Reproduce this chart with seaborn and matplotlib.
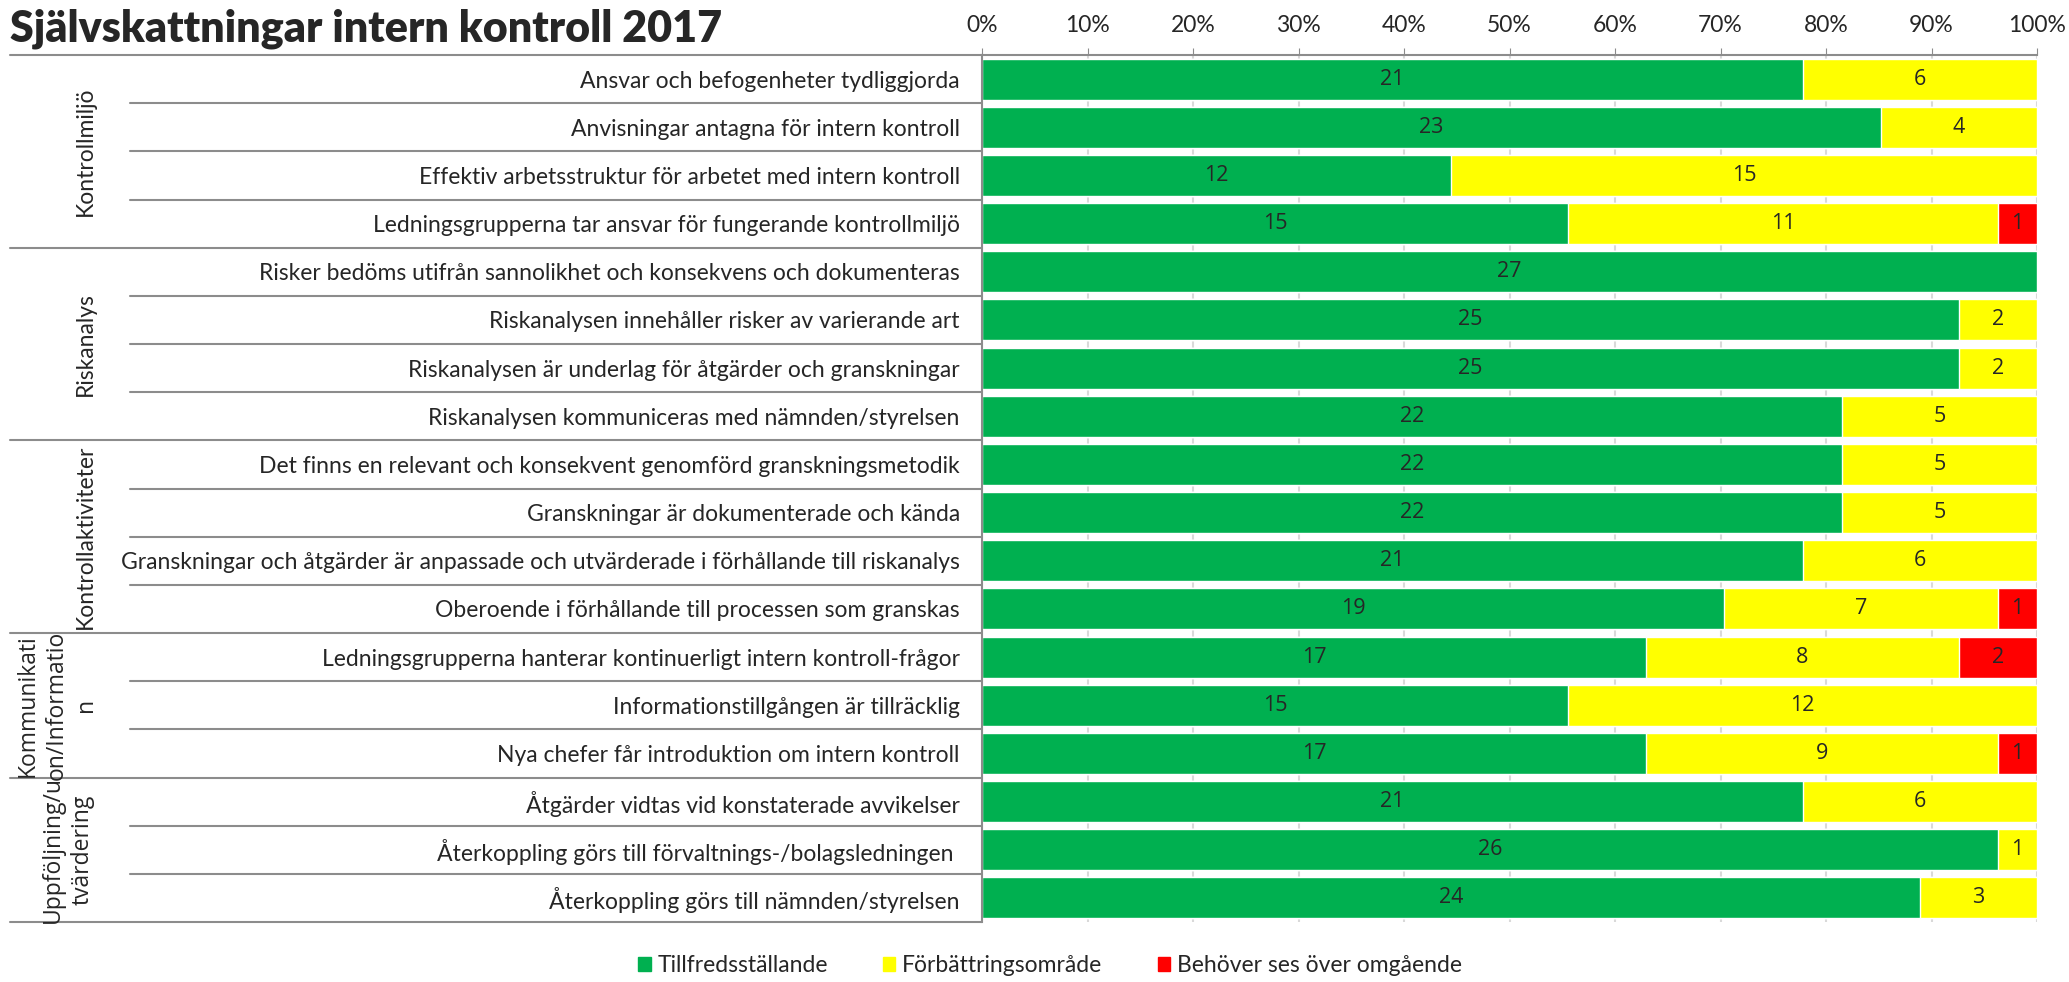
import numpy as np
import pandas as pd
import matplotlib
matplotlib.use('Agg')
import matplotlib.pyplot as plt
import matplotlib.transforms as mtransforms
from matplotlib.patches import Patch
import seaborn as sns

# Data
kategorier = [
    'Ansvar och befogenheter tydliggjorda',
    'Anvisningar antagna för intern kontroll',
    'Effektiv arbetsstruktur för arbetet med intern kontroll',
    'Ledningsgrupperna tar ansvar för fungerande kontrollmiljö',
    'Risker bedöms utifrån sannolikhet och konsekvens och dokumenteras',
    'Riskanalysen innehåller risker av varierande art',
    'Riskanalysen är underlag för åtgärder och granskningar',
    'Riskanalysen kommuniceras med nämnden/styrelsen',
    'Det finns en relevant och konsekvent genomförd granskningsmetodik',
    'Granskningar är dokumenterade och kända',
    'Granskningar och åtgärder är anpassade och utvärderade i förhållande till riskanalys',
    'Oberoende i förhållande till processen som granskas',
    'Ledningsgrupperna hanterar kontinuerligt intern kontroll-frågor',
    'Informationstillgången är tillräcklig',
    'Nya chefer får introduktion om intern kontroll',
    'Åtgärder vidtas vid konstaterade avvikelser',
    'Återkoppling görs till förvaltnings-/bolagsledningen ',
    'Återkoppling görs till nämnden/styrelsen',
]
tillfreds = [21, 23, 12, 15, 27, 25, 25, 22, 22, 22, 21, 19, 17, 15, 17, 21, 26, 24]
forbattring = [6, 4, 15, 11, 0, 2, 2, 5, 5, 5, 6, 7, 8, 12, 9, 6, 1, 3]
behover = [0, 0, 0, 1, 0, 0, 0, 0, 0, 0, 0, 1, 2, 0, 1, 0, 0, 0]

grupper = ['Kontrollmiljö', 'Riskanalys', 'Kontrollaktiviteter',
           'Kommunikati\non/Informatio\nn', 'Uppföljning/u\ntvärdering']
grupp_storlek = [4, 4, 4, 3, 3]

serier = ['Tillfredsställande', 'Förbättringsområde', 'Behöver ses över omgående']
farger = ['#00b050', '#ffff00', '#ff0000']

df = pd.DataFrame({'kategori': kategorier, 'g': tillfreds, 'y': forbattring, 'r': behover})
df['total'] = df[['g', 'y', 'r']].sum(axis=1)
df['pg'] = df['g'] / df['total'] * 100
df['py'] = (df['g'] + df['y']) / df['total'] * 100
df['pr'] = (df['g'] + df['y'] + df['r']) / df['total'] * 100

sns.set_style('white')
smal = ['Lato', 'DejaVu Sans']
bred = ['Open Sans', 'DejaVu Sans']
plt.rcParams['font.family'] = smal
linjefarg = '#8c8c8c'

fig = plt.figure(figsize=(20.69, 9.82), dpi=100)
ax = fig.add_axes([982 / 2069, 1 - 922 / 982, 1055 / 2069, (922 - 55) / 982])

# staplade staplar: rita kumulativa summor ovanpå varandra
for kol, farg in zip(['pr', 'py', 'pg'], farger[::-1]):
    sns.barplot(data=df, x=kol, y='kategori', orient='h', color=farg,
                width=0.85, saturation=1, ax=ax, legend=False, zorder=2)

# värden i staplarna
for i, rad in df.iterrows():
    start = 0
    for v in [rad['g'], rad['y'], rad['r']]:
        if v > 0:
            mitt = (start + v / 2) / rad['total'] * 100
            ax.text(mitt, i, f'{int(v)}', ha='center', va='center', fontsize=15.5,
                    family=bred, zorder=3)
        start += v

ax.set_xlim(0, 100)
ax.set_ylim(len(kategorier) - 0.5, -0.5)
ax.xaxis.tick_top()
ax.set_xticks(np.arange(0, 101, 10))
ax.set_xticklabels([f'{t}%' for t in range(0, 101, 10)], fontsize=16.5)
ax.tick_params(axis='x', length=5, color=linjefarg, pad=9, top=True, bottom=False)
ax.tick_params(axis='y', length=0, pad=16, labelsize=16.5)
ax.set_xlabel('')
ax.set_ylabel('')
ax.grid(axis='x', color='#d9d9d9', linewidth=1.5, zorder=0)
ax.set_axisbelow(True)
for s in ['right', 'bottom']:
    ax.spines[s].set_visible(False)
for s in ['top', 'left']:
    ax.spines[s].set_color(linjefarg)
    ax.spines[s].set_linewidth(1.5)

# tabellinjer till vänster
trans = mtransforms.blended_transform_factory(ax.transAxes, ax.transData)
x_rad = (130 - 982) / 1055
x_grupp = (10 - 982) / 1055
granser = np.cumsum([0] + grupp_storlek) - 0.5
for k in range(len(kategorier) + 1):
    yk = k - 0.5
    x0 = x_grupp if yk in granser else x_rad
    ax.plot([x0, 0], [yk, yk], color=linjefarg, lw=1.5, transform=trans, clip_on=False)

# grupprubriker
grupp_x = [85, 85, 85, 57, 68]
grupp_font = [smal, smal, smal, bred, bred]
grupp_size = [16.5, 16.5, 16.5, 16.5, 16.5]
for namn, a, b, gx, gf, gs in zip(grupper, granser[:-1], granser[1:], grupp_x, grupp_font, grupp_size):
    ax.text((gx - 982) / 1055, (a + b) / 2, namn, rotation=90, ha='center', va='center',
            fontsize=gs, family=gf, linespacing=1.3, transform=trans, multialignment='center')

fig.text(10 / 2069, 1 - 29 / 982, 'Självskattningar intern kontroll 2017', fontsize=31,
         fontweight='heavy', ha='left', va='center')

handles = [Patch(color=f) for f in farger]
fig.legend(handles, serier, loc='center',
           bbox_to_anchor=(1050 / 2069, 1 - 966 / 982), ncol=3, frameon=False,
           fontsize=16.5, handlelength=0.55, handleheight=0.55, handletextpad=0.3,
           columnspacing=2.4)

fig.savefig('out.png', dpi=100)
